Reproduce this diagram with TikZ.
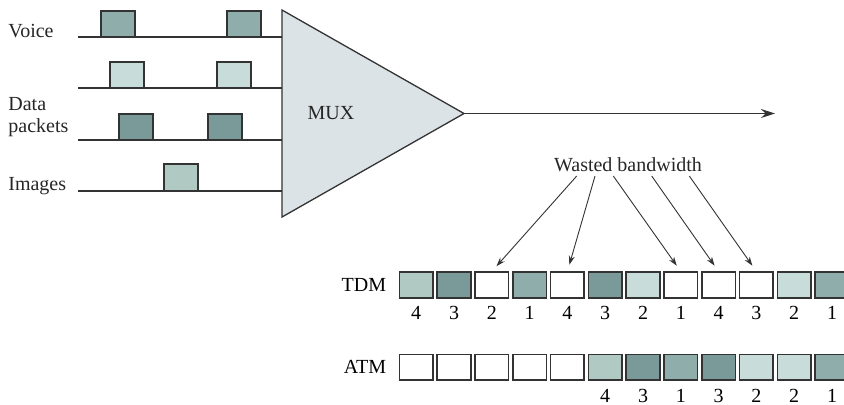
\documentclass[tikz,border=0pt]{standalone}
\usepackage{fontspec}
\setmainfont{Liberation Serif}
\usetikzlibrary{positioning,arrows.meta}

\definecolor{chone}{HTML}{8FADAB}
\definecolor{chtwo}{HTML}{C8DCD9}
\definecolor{chthree}{HTML}{7A9999}
\definecolor{chfour}{HTML}{B0C9C3}
\definecolor{muxfill}{HTML}{DCE3E6}
\definecolor{ink}{HTML}{333333}

\tikzset{
  cell/.style={draw=ink, line width=0.75pt, minimum width=16.8pt, minimum height=12.8pt, inner sep=0pt},
  slotnum/.style={inner sep=0.5pt},
  pulse/.style={draw=ink, line width=0.75pt},
  sig/.style={draw=ink, line width=0.65pt},
  lbl/.style={inner sep=0pt, text=black!85},
  wasted/.style={draw=ink, line width=0.45pt, -{Stealth[length=4.5pt,width=3pt]}, shorten >=3.5pt}
}

\begin{document}
\begin{tikzpicture}[x=0.5pt, y=-0.5pt, font=\fontsize{10}{11}\selectfont]
\useasboundingbox (0,0) rectangle (844,404);
\clip (0,0) rectangle (844,404);

% input lines
\foreach \y [count=\i] in {37,88,140,191} {
  \coordinate (s\i) at (78,\y);
  \coordinate (e\i) at (282,\y);
  \draw[sig] (s\i) -- (e\i);
}
\node[lbl, anchor=base west] (voice) at (8,37) {Voice};
\node[lbl, anchor=north west, align=left] (data) at (8,97) {Data\\packets};
\node[lbl, anchor=base west] (images) at (8,190) {Images};

% pulses
\foreach \x in {101,227} \draw[pulse, fill=chone] (\x,37) rectangle +(34,-26);
\foreach \x in {110,217} \draw[pulse, fill=chtwo] (\x,88) rectangle +(34,-26);
\foreach \x in {119,208} \draw[pulse, fill=chthree] (\x,140) rectangle +(34,-26);
\draw[pulse, fill=chfour] (164,191) rectangle +(34,-27);

% multiplexer
\coordinate (mtop) at (282,10);
\coordinate (mbot) at (282,217);
\coordinate (mout) at (464,113.5);
\draw[sig, fill=muxfill] (mtop) -- (mout) -- (mbot) -- cycle;
\node[lbl] (mux) at (331,113.5) {MUX};
\coordinate (outend) at (775,113.5);
\draw[sig, -{Stealth[length=7pt,width=4.5pt]}] (mout) -- (outend);

% TDM cells
\foreach \c [count=\i] in {chfour,chthree,white,chone,white,chthree,chtwo,white,white,white,chtwo,chone}
  \node[cell, fill=\c] (t\i) at ({416.2+37.8*(\i-1)},285) {};
\foreach \i/\n in {1/4,2/3,3/2,4/1,5/4,6/3,7/2,8/1,9/4,10/3,11/2,12/1}
  \node[slotnum, below=3.3pt of t\i] (tn\i) {\n};
\node[left=2.7pt of t1] (tdm) {TDM};

% ATM cells
\foreach \c [count=\i] in {white,white,white,white,white,chfour,chthree,chone,chthree,chtwo,chtwo,chone}
  \node[cell, fill=\c] (a\i) at ({416.2+37.8*(\i-1)},367.3) {};
\foreach \i/\n in {6/4,7/3,8/1,9/3,10/2,11/2,12/1}
  \node[slotnum, below=3.3pt of a\i] (an\i) {\n};
\node[left=2.7pt of a1] (atm) {ATM};

% wasted slots
\node[lbl] (waste) at (628,165) {Wasted bandwidth};
\foreach \x/\b in {576.7/3,595/5,613.3/8,651.7/9,689.3/10} {
  \coordinate (w\b) at (\x,176);
  \draw[wasted] (w\b) -- (t\b.north);
}
\end{tikzpicture}
\end{document}
